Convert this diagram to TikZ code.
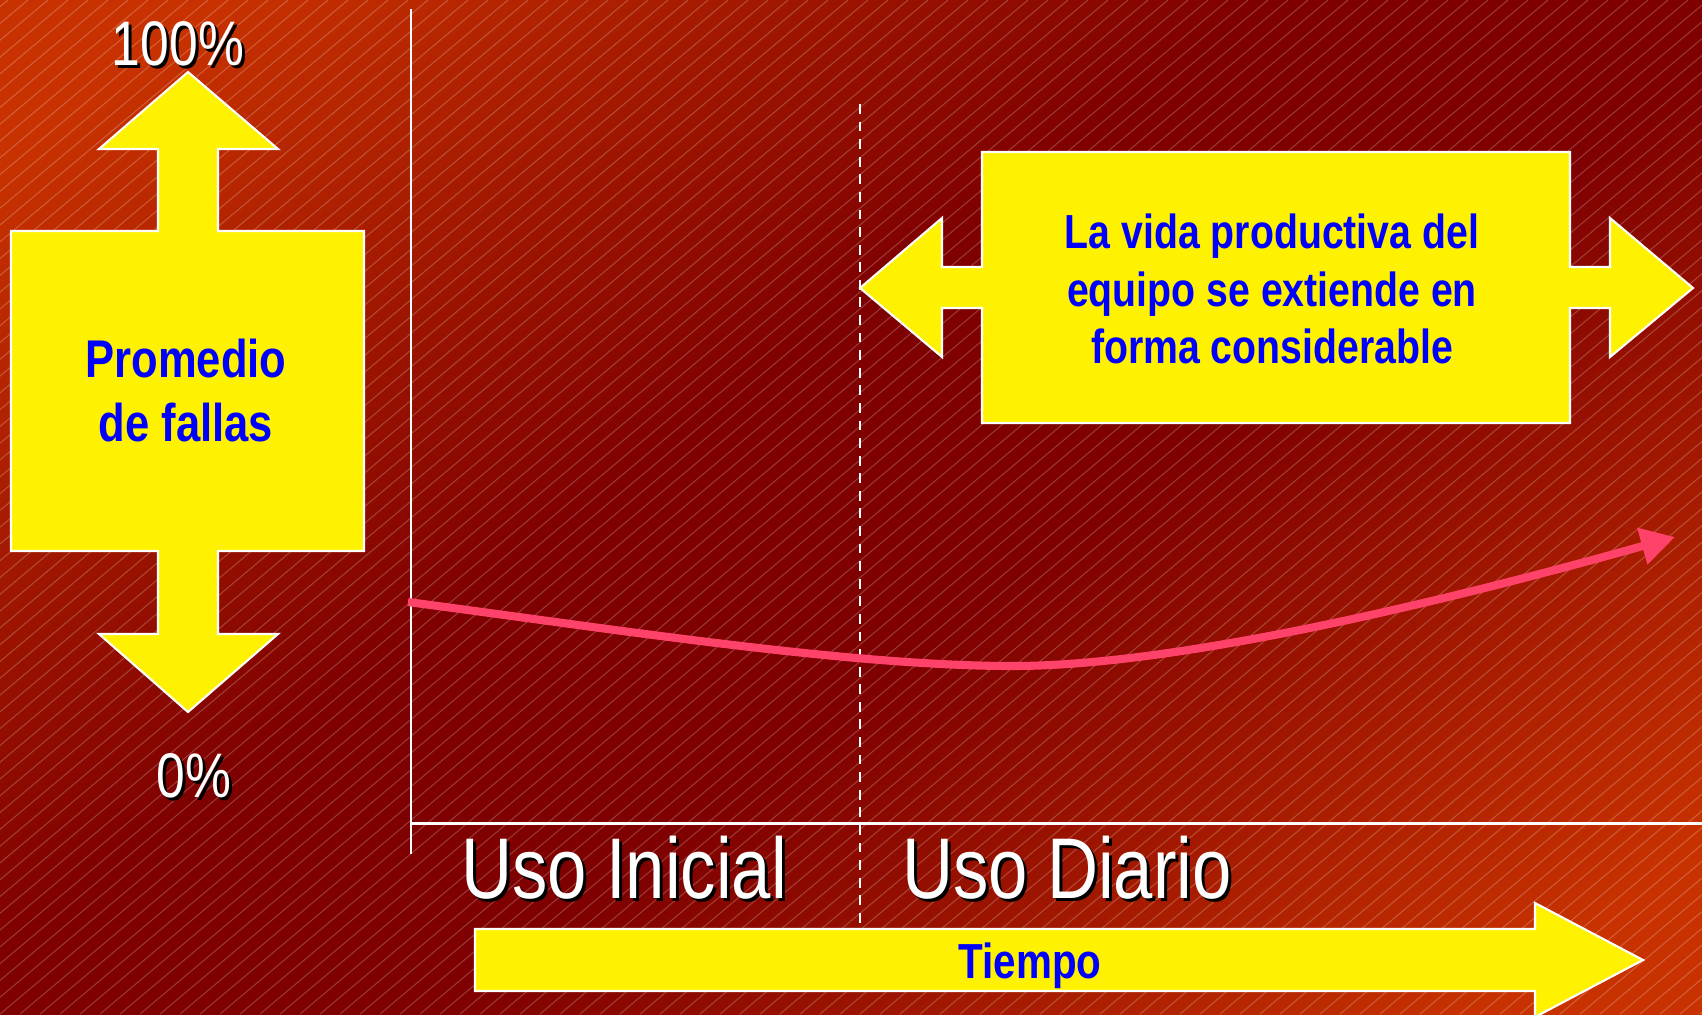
\documentclass[tikz,border=0pt]{standalone}
\usepackage{fontspec}
\newfontfamily\narrowfont[FakeStretch=0.82]{Liberation Sans}
\usetikzlibrary{arrows.meta,positioning}
\definecolor{bgorange}{RGB}{200,50,0}
\definecolor{bgdark}{RGB}{126,0,0}
\definecolor{curvepink}{RGB}{255,66,106}
\pgfdeclareverticalshading{slideshade}{100bp}{color(0bp)=(bgorange); color(20bp)=(bgorange); color(44bp)=(bgdark); color(56bp)=(bgdark); color(80bp)=(bgorange); color(100bp)=(bgorange)}
\tikzset{
	yellowshape/.style={fill=yellow, draw=white, line width=0.6pt},
	bluetext/.style={text=blue, align=center, inner sep=0pt},
	stripe/.style={white, opacity=0.22, line width=0.3pt},
	axisline/.style={white, line width=0.85pt},
	failcurve/.style={curvepink, line width=2.3pt, -{Triangle[length=0.34cm, width=0.36cm]}},
}
\newcommand{\shadowlabel}[4]{%
	\node[black, anchor=base, inner sep=0pt, xshift=0.85pt, yshift=-0.85pt, font=\narrowfont\fontsize{#3}{#3}\selectfont] at (#2) {#4};
	\node[white, anchor=base, inner sep=0pt, font=\narrowfont\fontsize{#3}{#3}\selectfont] (#1) at (#2) {#4};
}

\begin{document}
\begin{tikzpicture}[x=0.01cm, y=-0.01cm]
		\useasboundingbox (0,0) rectangle (1702,1014);
		\clip (0,0) rectangle (1702,1014);
		\shade [shading=slideshade, shading angle=37] (0,0) rectangle (1702,1014);
		\foreach \s in {-62,...,86}
			\draw [stripe] (\s*20,1014) -- ++(1208,-1014);
		% axes
		\coordinate (yaxtop) at (411,9);
		\coordinate (yaxbot) at (411,854);
		\coordinate (origin) at (411,823);
		\coordinate (xaxend) at (1702,823);
		\coordinate (splittop) at (860,104);
		\coordinate (splitbot) at (860,929);
		\draw [axisline] (yaxtop) to (yaxbot);
		\draw [axisline] (origin) to (xaxend);
		\draw [white, line width=0.6pt, dash pattern=on 2.8pt off 2.2pt] (splittop) to (splitbot);
		% failure arrow
		\draw [yellowshape] (11,231) -- (158,231) -- (158,149) -- (99,149) -- (188,72) -- (278,149) -- (218,149) -- (218,231) -- (364,231)
			-- (364,551) -- (218,551) -- (218,634) -- (278,634) -- (188,712) -- (99,634) -- (158,634) -- (158,551) -- (11,551) -- cycle;
		% life arrow
		\draw [yellowshape] (982,152) -- (1570,152) -- (1570,267) -- (1610,267) -- (1610,218) -- (1693,288) -- (1610,357) -- (1610,308) -- (1570,308)
			-- (1570,423) -- (982,423) -- (982,308) -- (942,308) -- (942,357) -- (860,288) -- (942,218) -- (942,267) -- (982,267) -- cycle;
		% time arrow
		\draw [yellowshape] (475,929) -- (1535,929) -- (1535,903) -- (1643,960) -- (1535,1017) -- (1535,991) -- (475,991) -- cycle;
		% curve
		\coordinate (cstart) at (408,602);
		\coordinate (cmin) at (1013,666);
		\coordinate (cend) at (1675,537);
		\draw [failcurve] (cstart) .. controls (620,630) and (850,666) .. (cmin) .. controls (1180,666) and (1450,600) .. (cend);
		\node[bluetext, font=\narrowfont\bfseries\fontsize{15.1}{18.2}\selectfont] (fallas) at (186,391) {Promedio\\de fallas};
		\node[bluetext, font=\narrowfont\bfseries\fontsize{13.6}{16.3}\selectfont] (vida) at (1272,289) {La vida productiva del\\equipo se extiende en\\forma considerable};
		\node[bluetext, anchor=base, font=\narrowfont\bfseries\fontsize{14}{14}\selectfont] (tiempo) at (1030,978) {Tiempo};
		\shadowlabel{cien}{178,65}{17.9}{100\%}
		\shadowlabel{cero}{194,797}{17.9}{0\%}
		\shadowlabel{inicial}{624,898}{24.5}{Uso Inicial}
		\shadowlabel{diario}{1067,898}{24.5}{Uso Diario}
\end{tikzpicture}
\end{document}
